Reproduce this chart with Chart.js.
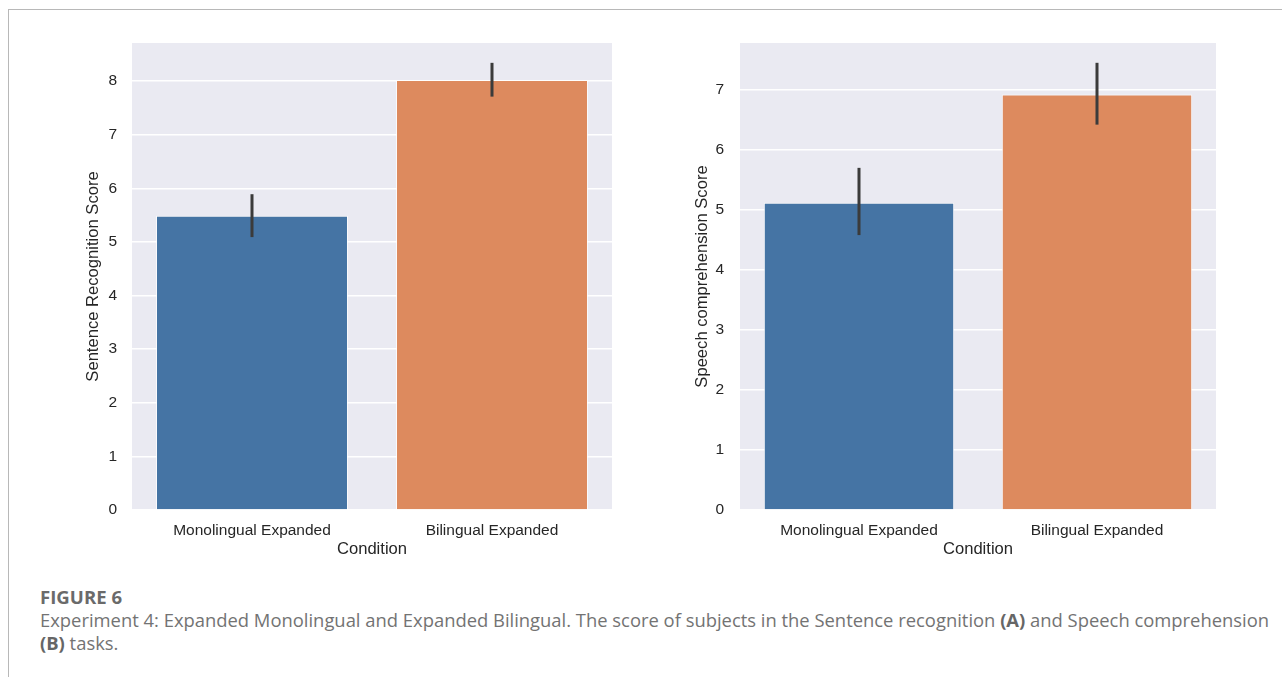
<!DOCTYPE html>
<html>
<head>
<meta charset="utf-8">
<script src="https://cdn.jsdelivr.net/npm/chart.js@4/dist/chart.umd.min.js"></script>
<style>
  body { margin: 0; background: #fff; width: 1282px; height: 677px; overflow: hidden; position: relative; }
  .frame { position: absolute; left: 8px; top: 9px; right: 0; bottom: 0; border-top: 1px solid #b8b8b8; border-left: 1px solid #b8b8b8; }
  .panel { position: absolute; top: 30px; height: 540px; }
  #panelA { left: 60px; width: 560px; }
  #panelB { left: 670px; width: 560px; }
  .caption { position: absolute; left: 40px; top: 585px; width: 1240px; font-family: "Open Sans", "Noto Sans", sans-serif; color: #737373; }
  .caption .fig { font-weight: 700; font-size: 18.6px; line-height: 23px; color: #6a6a6a; }
  .caption .txt { font-size: 18.4px; line-height: 23px; font-weight: 400; white-space: nowrap; }
  .caption b { font-weight: 700; color: #666; }
</style>
</head>
<body>
<div class="frame"></div>
<div class="panel" id="panelA"><canvas id="chartA"></canvas></div>
<div class="panel" id="panelB"><canvas id="chartB"></canvas></div>
<div class="caption">
  <div class="fig">FIGURE 6</div>
  <div class="txt">Experiment 4: Expanded Monolingual and Expanded Bilingual. The score of subjects in the Sentence recognition <b>(A)</b> and Speech comprehension<br><b>(B)</b> tasks.</div>
</div>
<script>
const conditions = ['Monolingual Expanded', 'Bilingual Expanded'];
const barColors = ['#4574a4', '#dd8a5e'];

// panel A: sentence recognition
const sentenceMean = [5.49, 8.02];
const sentenceLow = [5.09, 7.71];
const sentenceHigh = [5.89, 8.34];

// panel B: speech comprehension
const speechMean = [5.12, 6.92];
const speechLow = [4.58, 6.42];
const speechHigh = [5.70, 7.45];

const tickFont = { family: '"Liberation Sans", Arial, sans-serif', size: 15.5 };
const titleFont = { family: '"Liberation Sans", Arial, sans-serif', size: 16.6 };

// grey plot background behind the grid
const plotBackground = {
  id: 'plotBackground',
  beforeDraw(chart) {
    const { ctx, chartArea: a } = chart;
    ctx.save();
    ctx.fillStyle = '#eaeaf2';
    ctx.fillRect(a.left, a.top, a.right - a.left, a.bottom - a.top);
    ctx.restore();
  }
};

// confidence interval lines on top of each bar
const errorBars = {
  id: 'errorBars',
  afterDatasetsDraw(chart, args, opts) {
    const { ctx } = chart;
    const y = chart.scales.y;
    const meta = chart.getDatasetMeta(0);
    ctx.save();
    ctx.strokeStyle = '#3b3b3b';
    ctx.lineWidth = 3;
    ctx.lineCap = 'butt';
    meta.data.forEach((bar, i) => {
      ctx.beginPath();
      ctx.moveTo(bar.x, y.getPixelForValue(opts.low[i]));
      ctx.lineTo(bar.x, y.getPixelForValue(opts.high[i]));
      ctx.stroke();
    });
    ctx.restore();
  }
};

function makeChart(id, means, low, high, yMax, yTitle, yAxisWidth, titlePad, tickPad, rightPad) {
  return new Chart(document.getElementById(id), {
    type: 'bar',
    data: {
      labels: conditions,
      datasets: [{
        data: means,
        backgroundColor: barColors,
        borderColor: 'rgba(255,255,255,0.75)',
        borderWidth: 1,
        barPercentage: 0.8,
        categoryPercentage: 1.0
      }]
    },
    options: {
      responsive: true,
      maintainAspectRatio: false,
      animation: false,
      layout: { padding: { top: 13, right: rightPad, left: 0, bottom: 0 } },
      plugins: {
        legend: { display: false },
        tooltip: { enabled: false },
        errorBars: { low, high }
      },
      scales: {
        x: {
          grid: { display: false },
          border: { display: false },
          ticks: { font: tickFont, color: '#262626', padding: 3 },
          title: { display: true, text: 'Condition', font: titleFont, color: '#262626', padding: { top: 2, bottom: 11 } },
          afterFit(scale) { scale.height = 60; }
        },
        y: {
          min: 0,
          max: yMax,
          grid: { color: '#ffffff', lineWidth: 1.5, drawTicks: false },
          border: { display: false },
          ticks: { stepSize: 1, font: tickFont, color: '#262626', padding: tickPad },
          afterBuildTicks(scale) { scale.ticks = scale.ticks.filter(t => Number.isInteger(t.value)); },
          title: { display: true, text: yTitle, font: titleFont, color: '#262626', padding: { top: titlePad, bottom: 0 } },
          afterFit(scale) {
            scale.width = yAxisWidth;
            scale.paddingTop = 0;
            scale.paddingBottom = 0;
          }
        }
      }
    },
    plugins: [plotBackground, errorBars]
  });
}

makeChart('chartA', sentenceMean, sentenceLow, sentenceHigh, 8.71, 'Sentence Recognition Score', 72, 23, 15, 8);
makeChart('chartB', speechMean, speechLow, speechHigh, 7.78, 'Speech comprehension Score', 70, 22, 16, 14);
</script>
</body>
</html>
